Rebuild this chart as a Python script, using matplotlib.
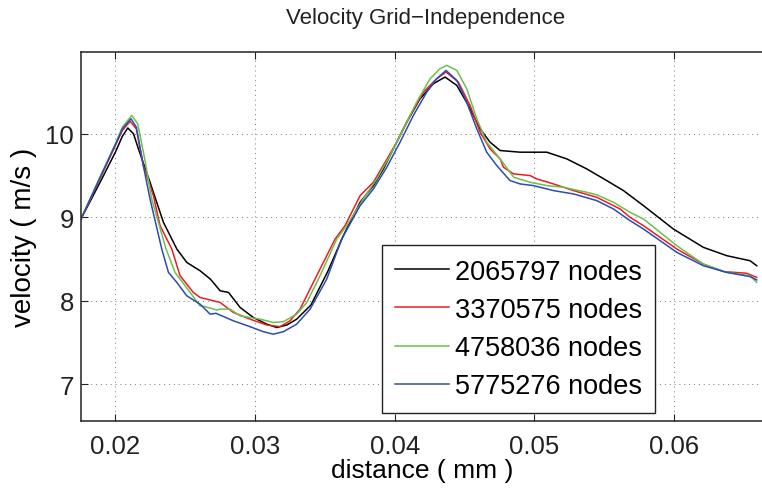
import matplotlib
matplotlib.use("Agg")
import matplotlib.pyplot as plt

plt.rcParams['font.family'] = ['Liberation Sans', 'DejaVu Sans']

# velocity profiles along the line for each mesh
x_2065797 = [0.01754, 0.0190, 0.0200, 0.0205, 0.02089, 0.0213, 0.02165, 0.02248, 0.02344,
             0.0244, 0.02511, 0.02606, 0.0268, 0.0275, 0.0281, 0.02893, 0.02988, 0.03084,
             0.03155, 0.03227, 0.03298, 0.0340, 0.0352, 0.03632, 0.03752, 0.03847, 0.03919,
             0.04002, 0.04086, 0.04181, 0.04276, 0.0436, 0.04444, 0.04527, 0.04611, 0.04682,
             0.04754, 0.04825, 0.04897, 0.05088, 0.05231, 0.05374, 0.05517, 0.05637, 0.0578,
             0.05994, 0.06209, 0.06377, 0.06543, 0.06591]
v_2065797 = [8.98, 9.45, 9.78, 9.97, 10.07, 10.00, 9.82, 9.42, 8.94,
             8.62, 8.46, 8.36, 8.26, 8.12, 8.10, 7.92, 7.80, 7.72,
             7.68, 7.71, 7.78, 7.95, 8.35, 8.78, 9.18, 9.38, 9.58,
             9.86, 10.14, 10.42, 10.60, 10.68, 10.58, 10.34, 10.06, 9.90,
             9.80, 9.79, 9.78, 9.78, 9.70, 9.58, 9.44, 9.32, 9.14,
             8.86, 8.64, 8.54, 8.48, 8.42]

x_3370575 = [0.01754, 0.0190, 0.0200, 0.0205, 0.02105, 0.0215, 0.0220, 0.02272, 0.0232,
             0.02404, 0.02463, 0.02558, 0.02606, 0.02654, 0.0275, 0.02845, 0.02964, 0.03084,
             0.03179, 0.0325, 0.03322, 0.03417, 0.03513, 0.03573, 0.03644, 0.03752, 0.03847,
             0.0391, 0.04014, 0.0411, 0.04205, 0.043, 0.04367, 0.04455, 0.04539, 0.04611,
             0.04682, 0.04754, 0.04778, 0.04851, 0.04969, 0.05016, 0.05136, 0.05279, 0.05446,
             0.05613, 0.05684, 0.0578, 0.06019, 0.06209, 0.06352, 0.06519, 0.06591]
v_3370575 = [8.98, 9.50, 9.86, 10.04, 10.15, 10.06, 9.62, 9.26, 8.90,
             8.62, 8.30, 8.10, 8.04, 8.02, 7.98, 7.86, 7.78, 7.71,
             7.69, 7.76, 7.90, 8.22, 8.54, 8.74, 8.90, 9.26, 9.42,
             9.60, 9.90, 10.22, 10.50, 10.66, 10.74, 10.62, 10.34, 10.02,
             9.82, 9.70, 9.60, 9.52, 9.50, 9.46, 9.40, 9.32, 9.24,
             9.10, 9.00, 8.90, 8.62, 8.44, 8.35, 8.33, 8.28]

x_4758036 = [0.01754, 0.0190, 0.0200, 0.0205, 0.02117, 0.0216, 0.0221, 0.0226, 0.02363,
             0.02427, 0.02535, 0.02606, 0.0264, 0.02726, 0.0275, 0.02821, 0.02893, 0.03036,
             0.03131, 0.03203, 0.03298, 0.0337, 0.03465, 0.03585, 0.03656, 0.03775, 0.03871,
             0.03966, 0.04062, 0.04157, 0.04253, 0.04324, 0.04372, 0.04444, 0.04515, 0.04587,
             0.04658, 0.04754, 0.04851, 0.04969, 0.05088, 0.05207, 0.05374, 0.05446, 0.05565,
             0.05684, 0.0578, 0.06019, 0.06209, 0.06377, 0.06543, 0.06591]
v_4758036 = [8.98, 9.52, 9.88, 10.08, 10.22, 10.12, 9.70, 9.22, 8.62,
             8.34, 8.10, 7.94, 7.93, 7.89, 7.90, 7.90, 7.82, 7.78,
             7.74, 7.75, 7.84, 7.98, 8.30, 8.74, 8.90, 9.22, 9.46,
             9.74, 10.06, 10.38, 10.66, 10.78, 10.82, 10.76, 10.54, 10.18,
             9.90, 9.70, 9.48, 9.42, 9.38, 9.36, 9.30, 9.27, 9.18,
             9.06, 8.98, 8.66, 8.44, 8.34, 8.30, 8.22]

x_5775276 = [0.01754, 0.0190, 0.0200, 0.0205, 0.02112, 0.0215, 0.0220, 0.02248, 0.02332,
             0.0238, 0.0244, 0.02511, 0.02606, 0.02678, 0.0272, 0.02845, 0.02964, 0.03059,
             0.03131, 0.03203, 0.03298, 0.03394, 0.03513, 0.0362, 0.03752, 0.03847, 0.03943,
             0.04038, 0.04133, 0.04229, 0.043, 0.04367, 0.04444, 0.04515, 0.04587, 0.04658,
             0.04730, 0.04825, 0.04897, 0.04992, 0.05136, 0.05279, 0.05446, 0.05565, 0.05684,
             0.0578, 0.06019, 0.06209, 0.06377, 0.06543, 0.06591]
v_5775276 = [8.98, 9.51, 9.87, 10.06, 10.18, 10.08, 9.62, 9.22, 8.62,
             8.34, 8.22, 8.06, 7.96, 7.84, 7.85, 7.76, 7.69, 7.63,
             7.60, 7.63, 7.72, 7.90, 8.26, 8.74, 9.14, 9.34, 9.60,
             9.90, 10.22, 10.50, 10.66, 10.76, 10.64, 10.38, 10.06, 9.78,
             9.62, 9.44, 9.40, 9.38, 9.32, 9.28, 9.20, 9.10, 8.96,
             8.86, 8.58, 8.42, 8.34, 8.29, 8.25]

labels = ['2065797 nodes', '3370575 nodes', '4758036 nodes', '5775276 nodes']
colors = ['black', '#ec1c24', '#6dc04b', '#2b4cb3']

fig = plt.figure(figsize=(7.62, 4.89), dpi=100)
ax = fig.add_axes([0.1063, 0.137, 0.8965, 0.7546])

series = [(x_2065797, v_2065797), (x_3370575, v_3370575),
          (x_4758036, v_4758036), (x_5775276, v_5775276)]
for (xs, vs), lab, col in zip(series, labels, colors):
    ax.plot(xs, vs, color=col, linewidth=1.1, label=lab)

ax.set_xlim(0.01754, 0.06644)
ax.set_ylim(6.56, 10.98)
ax.set_xticks([0.02, 0.03, 0.04, 0.05, 0.06])
ax.set_xticklabels(['0.02', '0.03', '0.04', '0.05', '0.06'])
ax.set_yticks([7, 8, 9, 10])
ax.tick_params(direction='in', length=5, width=0.8, labelsize=18.5,
               top=True, right=False, colors='#222222')
ax.tick_params(axis='x', pad=9)
ax.tick_params(axis='y', pad=5)
ax.spines['right'].set_visible(False)
ax.grid(True, linestyle=(0, (1, 4)), color='#777777', linewidth=0.7)
for s in ax.spines.values():
    s.set_linewidth(1.1)
    s.set_color('#222222')

ax.set_xlabel('distance ( mm )', fontsize=19, labelpad=0)
ax.set_ylabel('velocity ( m/s )', fontsize=20, labelpad=6)
fig.text(0.558, 0.962, 'Velocity Grid\u2212Independence', fontsize=16,
         ha='center', va='center', color='#222222')

leg = ax.legend(loc='lower left', bbox_to_anchor=(0.44, 0.022), fontsize=19.5,
                fancybox=False, framealpha=1, edgecolor='#222222',
                handlelength=2.0, handletextpad=0.2, labelspacing=0.45,
                borderpad=0.5, borderaxespad=0)
leg.get_frame().set_linewidth(1.0)

fig.savefig('out.png', dpi=100)
